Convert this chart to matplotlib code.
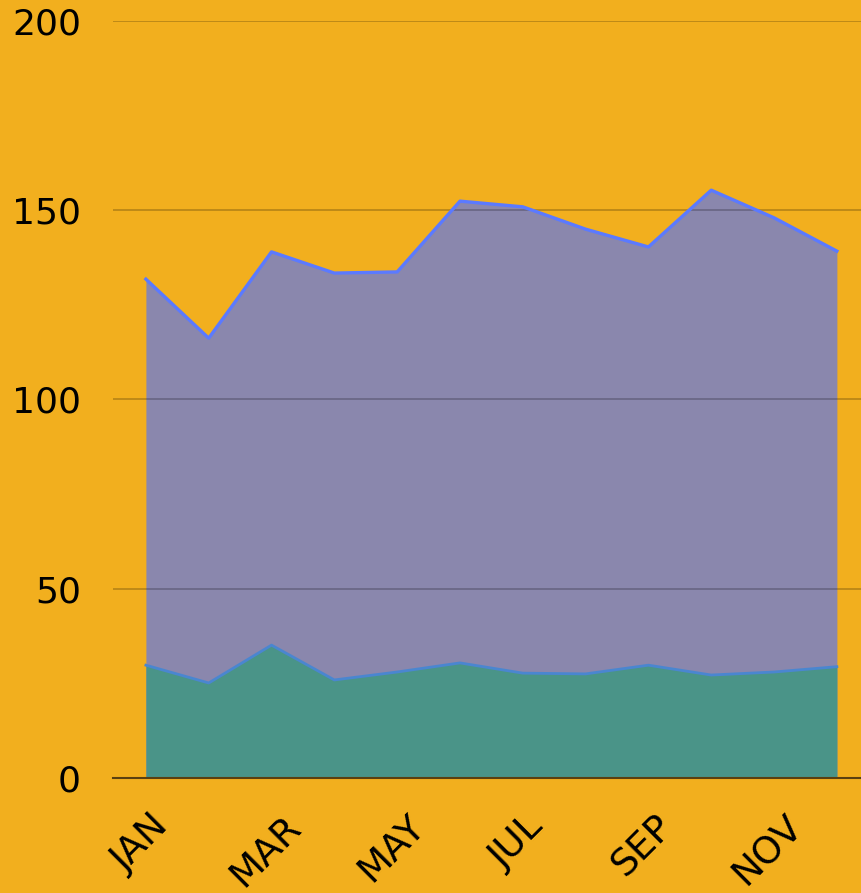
import matplotlib
matplotlib.use("Agg")
import matplotlib.pyplot as plt
from matplotlib.transforms import ScaledTranslation

months = ["JAN", "FEB", "MAR", "APR", "MAY", "JUN",
          "JUL", "AUG", "SEP", "OCT", "NOV", "DEC"]
total = [131.8, 116.2, 139.0, 133.4, 133.7, 152.4,
         150.9, 145.0, 140.3, 155.3, 148.0, 139.2]
part = [29.8, 25.1, 35.1, 25.9, 28.0, 30.4,
        27.7, 27.5, 29.8, 27.2, 28.0, 29.4]

bg = "#F2AF1E"
plt.rcParams['font.family'] = ['DejaVu Sans']

fig = plt.figure(figsize=(8.62, 8.93), dpi=100, facecolor=bg)
ax = fig.add_axes([0.131, 0.1288, 0.869, 0.8477], facecolor=bg)

x = list(range(len(months)))
ax.fill_between(x, 0, total, color="#8A87AD", zorder=1, linewidth=0)
ax.plot(x, total, color="#5B7AFF", linewidth=2.4, zorder=3)
ax.fill_between(x, 0, part, color="#4A9488", zorder=2, linewidth=0)
ax.plot(x, part, color="#4A86D0", linewidth=2.0, zorder=3)

ax.set_xlim(-0.525, 11.4)
ax.set_ylim(0, 200)
ax.set_yticks([0, 50, 100, 150, 200])
ax.set_xticks(x[::2])
ax.set_xticklabels(months[::2], rotation=45, ha="center")
ax.tick_params(axis="both", length=0, colors="black")
ax.tick_params(axis="y", pad=23, labelsize=26)
ax.tick_params(axis="x", pad=22, labelsize=27)
shift = ScaledTranslation(-4 / 72, 0, fig.dpi_scale_trans)
for lab in ax.get_xticklabels():
    lab.set_transform(lab.get_transform() + shift)

ax.grid(axis="y", color="black", alpha=0.25, linewidth=1.2, zorder=4)
ax.set_axisbelow(False)
for s in ["top", "right", "left"]:
    ax.spines[s].set_visible(False)
ax.spines["bottom"].set_color("#5A4010")
ax.spines["bottom"].set_linewidth(1.5)
ax.spines["bottom"].set_zorder(5)

fig.savefig("out.png", dpi=100, facecolor=bg)
